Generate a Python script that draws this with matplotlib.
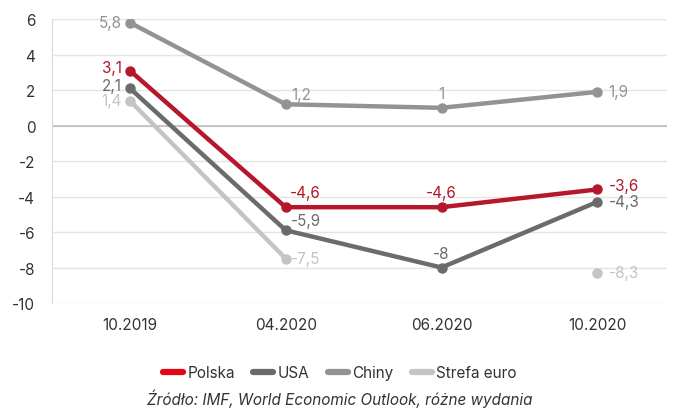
import matplotlib
matplotlib.use("Agg")
import matplotlib.pyplot as plt
import numpy as np

plt.rcParams["font.family"] = ["Inter", "DejaVu Sans"]
plt.rcParams["axes.unicode_minus"] = False

periods = ["10.2019", "04.2020", "06.2020", "10.2020"]
polska = [3.1, -4.6, -4.6, -3.6]
usa = [2.1, -5.9, -8.0, -4.3]
chiny = [5.8, 1.2, 1.0, 1.9]
euro = [1.4, -7.5, np.nan, -8.3]

# (name, values, line colour, legend colour)
series = [
    ("Polska", polska, "#b5172b", "#e30613"),
    ("USA", usa, "#6b6b6b", "#6b6b6b"),
    ("Chiny", chiny, "#939393", "#939393"),
    ("Strefa euro", euro, "#c4c4c4", "#c4c4c4"),
]

# label placement per point: dx, dy (points), ha, va
label_pos = {
    "Polska": [(-6, 2, "right", "center"), (3, 5, "left", "bottom"), (0, 5, "center", "bottom"), (8, 3, "left", "center")],
    "USA": [(-6, 2, "right", "center"), (4, 7, "left", "center"), (0, 5, "center", "bottom"), (8, 0, "left", "center")],
    "Chiny": [(-6, 0, "right", "center"), (4, 7, "left", "center"), (0, 5, "center", "bottom"), (8, 0, "left", "center")],
    "Strefa euro": [(-6, 0, "right", "center"), (4, 0, "left", "center"), None, (8, 0, "left", "center")],
}


def fmt(v):
    if v == int(v):
        return str(int(v))
    return f"{v:.1f}".replace(".", ",")


fig = plt.figure(figsize=(6.8, 4.1), dpi=100)
ax = fig.add_axes([0.0765, 0.2585, 0.905, 0.6925])

x = np.arange(len(periods))
order = ["Strefa euro", "Chiny", "USA", "Polska"]
for name, vals, col, _ in sorted(series, key=lambda s: order.index(s[0])):
    v = np.array(vals, dtype=float)
    ax.plot(x, v, color=col, lw=3.2, marker="o", ms=6.5, zorder=3, solid_capstyle="round")
    for i, val in enumerate(v):
        pos = label_pos[name][i]
        if np.isnan(val) or pos is None:
            continue
        dx, dy, ha, va = pos
        ax.annotate(fmt(val), (x[i], val), xytext=(dx, dy), textcoords="offset points",
                    ha=ha, va=va, fontsize=11, color=col, zorder=4)

ax.set_xlim(-0.5, 3.45)
ax.set_ylim(-10, 6)
ax.set_yticks(np.arange(-10, 7, 2))
ax.set_xticks(x)
ax.set_xticklabels(periods)
ax.grid(axis="y", color="#e4e4e4", lw=1)
ax.axhline(0, color="#bdbdbd", lw=1.2, zorder=1)
ax.set_axisbelow(True)
for s in ["top", "right", "bottom"]:
    ax.spines[s].set_visible(False)
ax.spines["left"].set_color("#d9d9d9")
ax.tick_params(axis="both", length=0, labelsize=11, colors="#333333")
ax.tick_params(axis="x", pad=10)
ax.tick_params(axis="y", pad=12)

handles = [plt.Line2D([], [], color=lc, lw=4.5, solid_capstyle="round") for _, _, _, lc in series]
fig.legend(handles, [s[0] for s in series], loc="center", bbox_to_anchor=(0.5, 0.088),
           ncol=4, frameon=False, fontsize=11, handlelength=1.3, handletextpad=0.3,
           columnspacing=1.2, labelcolor="#333333")
fig.text(0.5, 0.028, "Źródło: IMF, World Economic Outlook, różne wydania", ha="center",
         va="center", fontsize=11, style="italic", color="#333333")

fig.savefig("out.png", dpi=100)
